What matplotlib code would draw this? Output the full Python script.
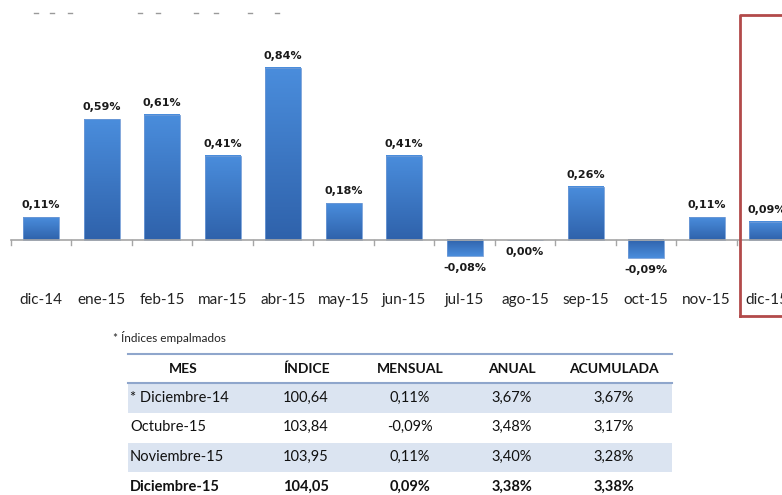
import numpy as np
import matplotlib
matplotlib.use("Agg")
import matplotlib.pyplot as plt
from matplotlib.colors import LinearSegmentedColormap

# ─── Data ────────────────────────────────────────────────────────────────────
months = ["dic-14", "ene-15", "feb-15", "mar-15", "abr-15", "may-15", "jun-15",
          "jul-15", "ago-15", "sep-15", "oct-15", "nov-15", "dic-15"]
monthly = [0.11, 0.59, 0.61, 0.41, 0.84, 0.18, 0.41,
           -0.08, 0.00, 0.26, -0.09, 0.11, 0.09]

table_header = ["MES", "ÍNDICE", "MENSUAL", "ANUAL", "ACUMULADA"]
table_mes = ["* Diciembre-14", "Octubre-15", "Noviembre-15", "Diciembre-15"]
table_indice = ["100,64", "103,84", "103,95", "104,05"]
table_mensual = ["0,11%", "-0,09%", "0,11%", "0,09%"]
table_anual = ["3,67%", "3,48%", "3,40%", "3,38%"]
table_acum = ["3,67%", "3,17%", "3,28%", "3,38%"]
footnote = "* Índices empalmados"

W, H = 782, 495
fig = plt.figure(figsize=(W / 100, H / 100), dpi=100)

# ─── Bar chart (full-figure axes, data units) ────────────────────────────────
ax = fig.add_axes([0, 0, 1, 1])
step = 60.5          # px per category
x0_px = 41           # centre of first bar
base_px = 240        # baseline y (from top)
scale = 205          # px per 1 %
xs = np.arange(len(months))
bars = ax.bar(xs, monthly, width=36 / step, color="none",
              edgecolor="#6f9ad6", linewidth=0.6, zorder=3)

cmap = LinearSegmentedColormap.from_list("blu", ["#2f62ab", "#4a8ddc"])
grad = np.linspace(0, 1, 64).reshape(-1, 1)
for b in bars:
    bb = b.get_bbox()
    if bb.height == 0:
        continue
    ax.imshow(grad, extent=[bb.x0, bb.x1, bb.y0, bb.y1], origin="lower",
              cmap=cmap, aspect="auto", zorder=2)

for x, v in zip(xs, monthly):
    lbl = f"{v:.2f}".replace(".", ",") + "%"
    if v > 0:
        ax.text(x, v + 7 / scale, lbl, ha="center", va="bottom",
                fontsize=8, fontweight="bold", color="#1a1a1a")
    else:
        ax.text(x, v - 7 / scale, lbl, ha="center", va="top",
                fontsize=8, fontweight="bold", color="#1a1a1a")
    ax.text(x, -60 / scale, months[x], ha="center", va="center",
            fontsize=11, family="Lato", color="#222222")

# axis line and ticks at category boundaries
ax.axhline(0, xmin=(11) / W, xmax=1, color="#a6a6a6", linewidth=1.2, zorder=4)
for k in range(len(months) + 1):
    ax.plot([k - 0.5, k - 0.5], [0, -5 / scale], color="#a6a6a6",
            linewidth=1.0, zorder=4)

ax.set_xlim(-x0_px / step, (W - x0_px) / step)
ax.set_ylim(-(H - base_px) / scale, base_px / scale)
ax.axis("off")

# ─── Overlay in pixel coordinates: table, frame, footnote ────────────────────
ov = fig.add_axes([0, 0, 1, 1], facecolor="none")
ov.set_xlim(0, W)
ov.set_ylim(H, 0)
ov.axis("off")

# faint cropped text remnants at the top
for xd in [36, 52, 70, 140, 158, 196, 216, 250, 277]:
    ov.plot([xd - 2, xd + 2], [13, 13], color="#9a9a9a", linewidth=1)

# red highlight frame around dic-15
ov.plot([740, 740, 790], [316, 15, 15], color="#b24a4a", linewidth=2)
ov.plot([740, 790], [316, 316], color="#b24a4a", linewidth=2)

ov.text(113, 338, footnote, fontsize=8.5, family="Lato", va="center",
        color="#222222")

tx0, tx1 = 128, 672
ov.plot([tx0, tx1], [354, 354], color="#8fa6cc", linewidth=1.5)
ov.plot([tx0, tx1], [383, 383], color="#8fa6cc", linewidth=1.5)
col_x = [183, 306, 410, 512, 614]
for cx, h in zip(col_x, table_header):
    ov.text(cx, 369, h, ha="center", va="center", fontsize=10,
            fontweight="bold", family="Lato", color="#111111")

row_y = [398, 427, 457, 487]
for i, ry in enumerate(row_y):
    if i % 2 == 0:
        ov.fill_between([tx0, tx1], ry - 14.5, ry + 14.5, color="#dbe4f1",
                        linewidth=0)
    fw = "bold" if i == len(row_y) - 1 else "normal"
    ov.text(130, ry, table_mes[i], ha="left", va="center", fontsize=10.5,
            family="Lato", fontweight=fw, color="#111111")
    for cx, col in zip(col_x[1:], [table_indice, table_mensual,
                                   table_anual, table_acum]):
        ov.text(cx, ry, col[i], ha="center", va="center", fontsize=10.5,
                family="Lato", fontweight=fw, color="#111111")

fig.savefig("out.png", dpi=100)
